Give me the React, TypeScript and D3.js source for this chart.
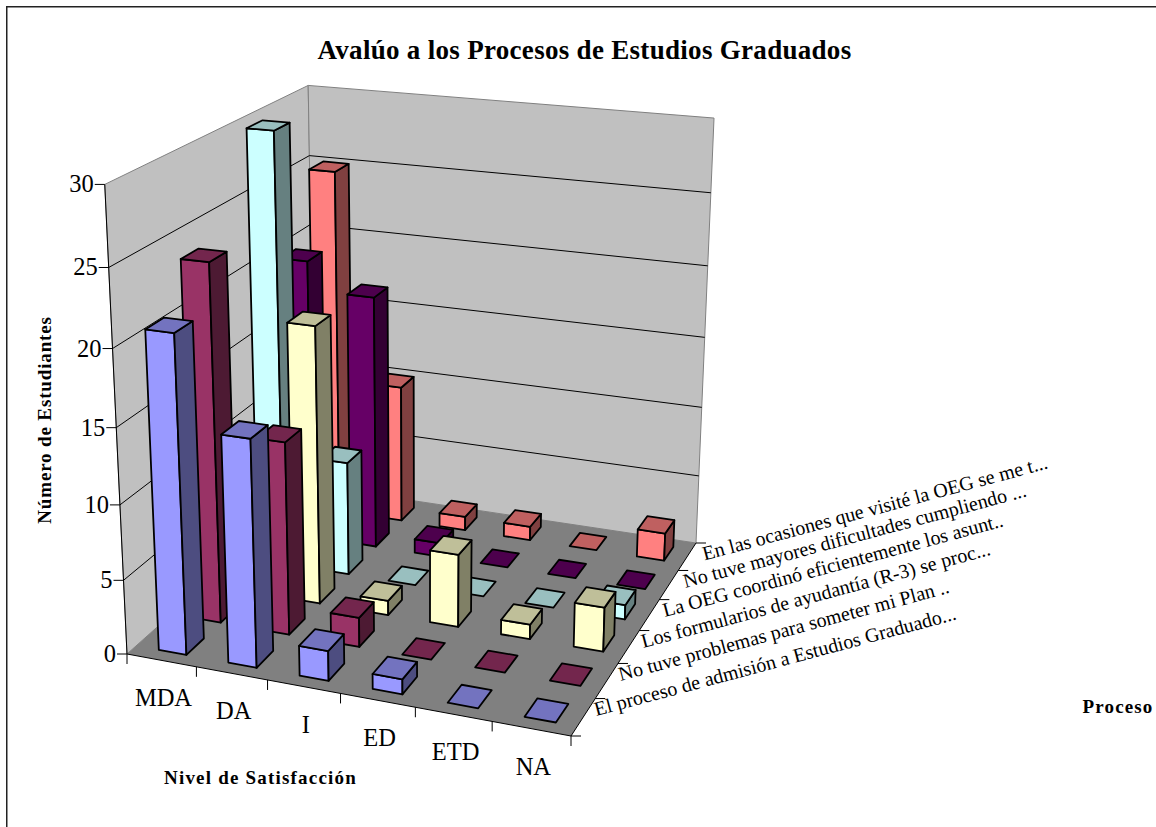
import React from "react";
import * as d3 from "d3";

const title = "Avalúo a los Procesos de Estudios Graduados";
const yTitle = "Número de Estudiantes";
const xTitle = "Nivel de Satisfacción";
const zTitle = "Proceso";
const categories = ["MDA", "DA", "I", "ED", "ETD", "NA"];
const processes = [
  "El proceso de admisión a Estudios Graduado...",
  "No tuve problemas para someter mi Plan ..",
  "Los formularios de ayudantía (R-3) se proc...",
  "La OEG coordinó eficientemente los asunt..",
  "No tuve mayores dificultades cumpliendo ...",
  "En las ocasiones que visité la OEG se me t...",
];
const colors = ["#9999FF", "#993366", "#FFFFCC", "#CCFFFF", "#660066", "#FF8080"];
const yTicks = [0, 5, 10, 15, 20, 25, 30];
const admision = [21, 15, 2, 1, 0, 0];
const plan = [24, 13, 2, 0, 0, 0];
const formularios = [10, 19, 1, 5, 1, 3];
const oeg = [30, 8, 0, 0, 0, 1];
const dificultades = [20, 18, 1, 0, 0, 0];
const ocasiones = [25, 10, 1, 1, 0, 2];
const seriesValues = [admision, plan, formularios, oeg, dificultades, ocasiones];

type Pt = [number, number];

// screen anchors of the plot box: floor corners and wall tops
const FL: Pt = [127, 654];
const FR: Pt = [571, 736];
const BR: Pt = [696, 543];
const BL: Pt = [315, 486];
const TFL: Pt = [105, 185];
const TBL: Pt = [308, 85];
const TBR: Pt = [714, 118];

function solve(A: number[][], b: number[]): number[] {
  const n = b.length;
  const M = A.map((r, i) => [...r, b[i]]);
  for (let i = 0; i < n; i++) {
    let p = i;
    for (let k = i + 1; k < n; k++) if (Math.abs(M[k][i]) > Math.abs(M[p][i])) p = k;
    [M[i], M[p]] = [M[p], M[i]];
    for (let k = 0; k < n; k++) {
      if (k === i) continue;
      const f = M[k][i] / M[i][i];
      for (let j = i; j <= n; j++) M[k][j] -= f * M[i][j];
    }
  }
  return M.map((r, i) => r[n] / r[i]);
}

function buildProjection() {
  const src: [number, number, Pt][] = [
    [0, 0, FL],
    [1, 0, FR],
    [1, 1, BR],
    [0, 1, BL],
  ];
  const A: number[][] = [];
  const b: number[] = [];
  src.forEach(([u, v, [x, y]]) => {
    A.push([u, v, 1, 0, 0, 0, -u * x, -v * x]);
    b.push(x);
    A.push([0, 0, 0, u, v, 1, -u * y, -v * y]);
    b.push(y);
  });
  const h = solve(A, b);
  const top: [number, number, Pt][] = [
    [0, 0, TFL],
    [0, 1, TBL],
    [1, 1, TBR],
  ];
  const R: number[][] = [];
  const r: number[] = [];
  top.forEach(([u, v, [x, y]]) => {
    const bx = h[0] * u + h[1] * v + h[2];
    const by = h[3] * u + h[4] * v + h[5];
    const bw = h[6] * u + h[7] * v + 1;
    R.push([1, 0, -x]);
    r.push(x * bw - bx);
    R.push([0, 1, -y]);
    r.push(y * bw - by);
  });
  const NtN = [0, 1, 2].map((i) => [0, 1, 2].map((j) => d3.sum(R, (row) => row[i] * row[j])));
  const Ntr = [0, 1, 2].map((i) => d3.sum(R, (row, k) => row[i] * r[k]));
  const c = solve(NtN, Ntr);
  return (u: number, v: number, w: number): Pt => {
    const W = h[6] * u + h[7] * v + 1 + c[2] * w;
    return [
      (h[0] * u + h[1] * v + h[2] + c[0] * w) / W,
      (h[3] * u + h[4] * v + h[5] + c[1] * w) / W,
    ];
  };
}

const P = buildProjection();
const uScale = d3
  .scaleBand<string>()
  .domain(categories)
  .range([0, 1])
  .paddingInner(0.6)
  .paddingOuter(0.3)
  .align(0.55);
const vScale = d3.scaleBand<string>().domain(processes).range([0, 1]).paddingInner(0.5).paddingOuter(0.25);
const uEdge = d3.scaleLinear().domain([0, categories.length]).range([0, 1]);
const vEdge = d3.scaleLinear().domain([0, processes.length]).range([0, 1]);
const wScale = d3.scaleLinear().domain([0, 30]).range([0, 1]);
const poly = (pts: Pt[]) => d3.line()(pts) + "Z";
const shade = (col: string, k: number) => {
  const c = d3.rgb(col);
  return d3.rgb(c.r * k, c.g * k, c.b * k).formatHex();
};
const FONT = "'Liberation Serif','Times New Roman',serif";

export default function App() {
  const bars: React.ReactNode[] = [];
  for (let s = processes.length - 1; s >= 0; s--) {
    const v0 = vScale(processes[s])!;
    const v1 = v0 + vScale.bandwidth();
    categories.forEach((cat, i) => {
      const val = seriesValues[s][i];
      const u0 = uScale(cat)!;
      const u1 = u0 + uScale.bandwidth();
      const w = wScale(val);
      const col = colors[s];
      const key = `${s}-${i}`;
      const st = { stroke: "#000", strokeWidth: 1.8, strokeLinejoin: "round" as const };
      bars.push(
        <g key={key}>
          {val > 0 && (
            <>
              <path d={poly([P(u0, v0, 0), P(u1, v0, 0), P(u1, v0, w), P(u0, v0, w)])} fill={col} {...st} />
              <path d={poly([P(u1, v0, 0), P(u1, v1, 0), P(u1, v1, w), P(u1, v0, w)])} fill={shade(col, 0.5)} {...st} />
            </>
          )}
          <path d={poly([P(u0, v0, w), P(u1, v0, w), P(u1, v1, w), P(u0, v1, w)])} fill={shade(col, 0.75)} {...st} />
        </g>
      );
    });
  }

  return (
    <svg
      width={1156}
      height={827}
      style={{ position: "absolute", left: 0, top: 0, background: "#fff" }}
      fontFamily={FONT}
    >
      <path d="M6.75,827V6.75H1156" fill="none" stroke="#222" strokeWidth={1.5} />

      <path d={poly([P(0, 0, 0), P(0, 1, 0), P(0, 1, 1), P(0, 0, 1)])} fill="#C0C0C0" stroke="#808080" />
      <path d={poly([P(0, 1, 0), P(1, 1, 0), P(1, 1, 1), P(0, 1, 1)])} fill="#C0C0C0" stroke="#808080" />
      <path d={poly([P(0, 0, 0), P(1, 0, 0), P(1, 1, 0), P(0, 1, 0)])} fill="#808080" />

      {yTicks.slice(1, -1).map((t) => (
        <path
          key={t}
          d={d3.line()([P(0, 0, wScale(t)), P(0, 1, wScale(t)), P(1, 1, wScale(t))])!}
          fill="none"
          stroke="#000"
        />
      ))}
      <path d={d3.line()([P(0, 0, 1), P(0, 0, 0)])!} fill="none" stroke="#000" />
      <path d={d3.line()([P(0, 0, 0), P(1, 0, 0), P(1, 1, 0)])!} fill="none" stroke="#000" />

      {yTicks.map((t) => {
        const [x, y] = P(0, 0, wScale(t));
        return (
          <g key={t}>
            <line x1={x - 10} x2={x} y1={y} y2={y} stroke="#000" />
            <text x={x - 11} y={y + 8} textAnchor="end" fontSize={24.5}>
              {t}
            </text>
          </g>
        );
      })}

      {d3.range(categories.length + 1).map((i) => {
        const [x, y] = P(uEdge(i), 0, 0);
        return <line key={i} x1={x} x2={x} y1={y} y2={y + 10} stroke="#000" />;
      })}
      {categories.map((c, i) => {
        const [x, y] = P(uEdge(i + 0.5), 0, 0);
        return (
          <text key={c} x={x + 2} y={y + 46} textAnchor="middle" fontSize={24.5}>
            {c}
          </text>
        );
      })}

      {d3.range(processes.length + 1).map((i) => {
        const [x, y] = P(1, vEdge(i), 0);
        return <line key={i} x1={x} x2={x + 10} y1={y} y2={y} stroke="#000" />;
      })}
      {processes.map((p, i) => {
        const [x, y] = P(1, vEdge(i + 1), 0);
        const tx = x + 1 + 1.5 * i;
        const ty = y + 17.5;
        return (
          <text key={p} x={tx} y={ty} fontSize={20} transform={`rotate(-15 ${tx} ${ty})`}>
            {p}
          </text>
        );
      })}

      {bars}

      <text x={584.5} y={59} textAnchor="middle" fontSize={27} fontWeight="bold" letterSpacing={0.3}>
        {title}
      </text>
      <text x={260.5} y={784} textAnchor="middle" fontSize={19} fontWeight="bold" letterSpacing={1.2}>
        {xTitle}
      </text>
      <text x={1118} y={713} textAnchor="middle" fontSize={19} fontWeight="bold" letterSpacing={1.15}>
        {zTitle}
      </text>
      <text
        transform="translate(51,420) rotate(-90)"
        textAnchor="middle"
        fontSize={19}
        fontWeight="bold"
        letterSpacing={0.85}
      >
        {yTitle}
      </text>
    </svg>
  );
}
